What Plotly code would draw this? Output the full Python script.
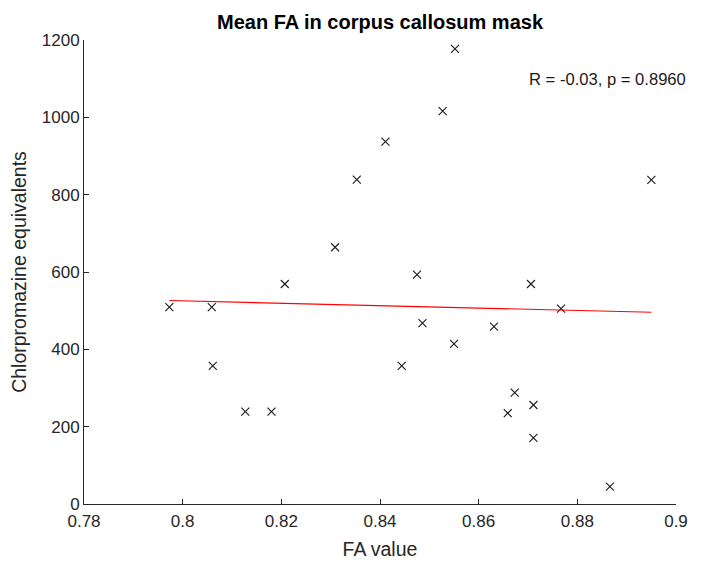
import numpy as np
import plotly.graph_objects as go

fa_value = [0.7973, 0.8059, 0.8061, 0.8127, 0.8180, 0.8207, 0.8309, 0.8353,
            0.8411, 0.8444, 0.8475, 0.8486, 0.8527, 0.8552, 0.8550, 0.8631,
            0.8659, 0.8673, 0.8706, 0.8711, 0.8711, 0.8767, 0.8866, 0.8950]
cpz_equiv = [509, 509, 357, 239, 239, 569, 664, 839,
             937, 357, 593, 468, 1016, 1177, 414, 459,
             235, 288, 569, 256, 171, 505, 45, 838]

x_ticks = [0.78, 0.8, 0.82, 0.84, 0.86, 0.88, 0.9]
x_tick_text = ["0.78", "0.8", "0.82", "0.84", "0.86", "0.88", "0.9"]
y_ticks = [0, 200, 400, 600, 800, 1000, 1200]

stats_text = "R = -0.03, p = 0.8960"

xa = np.array(fa_value)
ya = np.array(cpz_equiv)
slope, intercept = np.polyfit(xa, ya, 1)
fit_x = [xa.min(), xa.max()]
fit_y = [slope * v + intercept for v in fit_x]

FONT = "Liberation Sans, Arial, Helvetica, sans-serif"
AX = "#262626"

# page has an 8px body margin, so the figure is sized to fill the rest
W, H = 693, 555

fig = go.Figure()
fig.add_trace(go.Scatter(
    x=fa_value, y=cpz_equiv, mode="markers",
    marker=dict(symbol="x-thin", size=8, line=dict(width=1.1, color="#1a1a1a")),
    showlegend=False, hoverinfo="skip"))
fig.add_trace(go.Scatter(
    x=fit_x, y=fit_y, mode="lines",
    line=dict(color="#ff0000", width=1.1),
    showlegend=False, hoverinfo="skip"))

fig.add_annotation(x=0.8698, y=1097, xref="x", yref="y", text=stats_text,
                   showarrow=False, xanchor="left", yanchor="middle",
                   font=dict(family=FONT, size=16.6, color="#1a1a1a"))

fig.update_layout(
    width=W, height=H,
    margin=dict(l=76, r=25, t=32, b=59, autoexpand=False),
    paper_bgcolor="white", plot_bgcolor="white",
    title=dict(text="<b>Mean FA in corpus callosum mask</b>", x=372 / W, xanchor="center",
               y=1 - 14 / H, yanchor="middle",
               font=dict(family=FONT, size=20, color="black")),
    font=dict(family=FONT, size=17, color=AX),
)
fig.update_xaxes(range=[0.78, 0.9], tickvals=x_ticks, ticktext=x_tick_text,
                 showgrid=False, zeroline=False, showline=True, linecolor=AX, linewidth=1,
                 ticks="inside", ticklen=5, tickcolor=AX, mirror=False,
                 ticklabelstandoff=2,
                 tickfont=dict(family=FONT, size=17, color=AX),
                 title=dict(text="FA value", standoff=11, font=dict(family=FONT, size=19.5, color=AX)))
fig.update_yaxes(range=[0, 1200], tickvals=y_ticks,
                 showgrid=False, zeroline=False, showline=True, linecolor=AX, linewidth=1,
                 ticks="inside", ticklen=5, tickcolor=AX, mirror=False,
                 tickfont=dict(family=FONT, size=17, color=AX),
                 title=dict(text="Chlorpromazine equivalents", standoff=9,
                            font=dict(family=FONT, size=19.5, color=AX)))

fig.write_html("out.html")
